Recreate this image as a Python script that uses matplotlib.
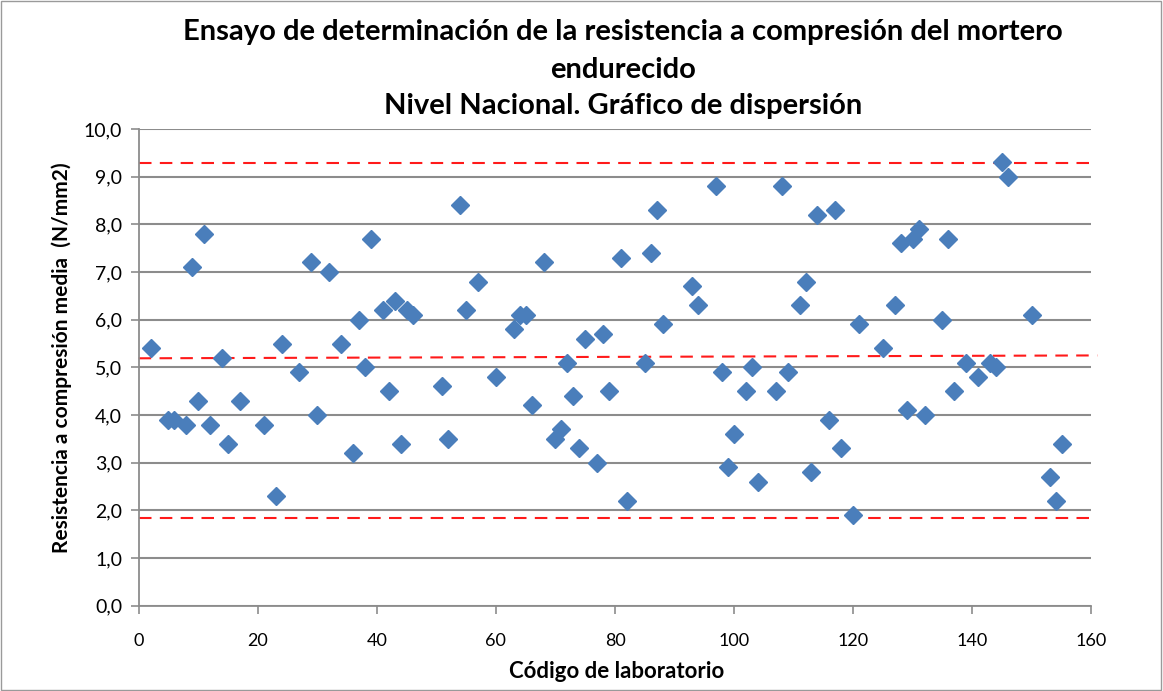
import matplotlib
matplotlib.use("Agg")
import matplotlib.pyplot as plt
from matplotlib.patches import Rectangle
from matplotlib.ticker import FuncFormatter, MultipleLocator

# Laboratory codes and mean compressive strength (N/mm2)
lab_codes = [
    2, 5, 6, 8, 9, 10, 11, 12, 14, 15, 17, 21, 23, 24, 27, 29, 30, 32, 34, 36,
    37, 38, 39, 41, 42, 43, 44, 45, 46, 51, 52, 54, 55, 57, 60, 63, 64, 65, 66, 68,
    70, 71, 72, 73, 74, 75, 77, 78, 79, 81, 82, 85, 86, 87, 88, 93, 94, 97, 98, 99,
    100, 102, 103, 104, 107, 108, 109, 111, 112, 113, 114, 116, 117, 118, 120, 121,
    125, 127, 128, 129, 130, 131, 132, 135, 136, 137, 139, 141, 143, 144, 145, 146,
    150, 153, 154, 155,
]
strength = [
    5.4, 3.9, 3.9, 3.8, 7.1, 4.3, 7.8, 3.8, 5.2, 3.4, 4.3, 3.8, 2.3, 5.5, 4.9, 7.2, 4.0, 7.0, 5.5, 3.2,
    6.0, 5.0, 7.7, 6.2, 4.5, 6.4, 3.4, 6.2, 6.1, 4.6, 3.5, 8.4, 6.2, 6.8, 4.8, 5.8, 6.1, 6.1, 4.2, 7.2,
    3.5, 3.7, 5.1, 4.4, 3.3, 5.6, 3.0, 5.7, 4.5, 7.3, 2.2, 5.1, 7.4, 8.3, 5.9, 6.7, 6.3, 8.8, 4.9, 2.9,
    3.6, 4.5, 5.0, 2.6, 4.5, 8.8, 4.9, 6.3, 6.8, 2.8, 8.2, 3.9, 8.3, 3.3, 1.9, 5.9,
    5.4, 6.3, 7.6, 4.1, 7.7, 7.9, 4.0, 6.0, 7.7, 4.5, 5.1, 4.8, 5.1, 5.0, 9.3, 9.0,
    6.1, 2.7, 2.2, 3.4,
]

# Reference limits: upper, central and lower lines (start, end values)
upper_line = [9.29, 9.29]
central_line = [5.19, 5.25]
lower_line = [1.83, 1.83]
line_x = [0, 161]

title_lines = [
    "Ensayo de determinación de la resistencia a compresión del mortero",
    "endurecido",
    "Nivel Nacional. Gráfico de dispersión",
]
x_label = "Código de laboratorio"
y_label = "Resistencia a compresión media  (N/mm2)"

W, H = 1163, 691
fig = plt.figure(figsize=(W / 100, H / 100), dpi=100)
ax = fig.add_axes([138.7 / W, 1 - 605.7 / H, (1091.3 - 138.7) / W, (605.7 - 129) / H])

grid_color = "#8C8C8C"
ax.set_xlim(0, 160)
ax.set_ylim(0, 10)
ax.xaxis.set_major_locator(MultipleLocator(20))
ax.yaxis.set_major_locator(MultipleLocator(1))
ax.yaxis.set_major_formatter(FuncFormatter(lambda v, p: f"{v:.1f}".replace(".", ",")))
ax.grid(axis="y", color=grid_color, linewidth=1.5)
ax.set_axisbelow(True)
for side in ("top", "right"):
    ax.spines[side].set_visible(False)
for side in ("left", "bottom"):
    ax.spines[side].set_color(grid_color)
    ax.spines[side].set_linewidth(1.3)
ax.tick_params(axis="both", direction="out", color=grid_color, width=1.2, length=6)
ax.tick_params(axis="x", pad=14)
ax.tick_params(axis="y", pad=6)

for lab in ax.get_xticklabels():
    lab.set_family(["Lato", "DejaVu Sans"])
    lab.set_fontsize(13)
for lab in ax.get_yticklabels():
    lab.set_family(["Lato", "DejaVu Sans"])
    lab.set_fontsize(14)

for vals in (upper_line, central_line, lower_line):
    ax.plot(line_x, vals, color="#FF1A1A", linewidth=1.5, dashes=(6, 4), clip_on=False, zorder=2)

ax.plot(lab_codes, strength, linestyle="none", marker="D", markersize=9.2,
        markerfacecolor="#4A7EBB", markeredgecolor="#4A7EBB", zorder=3, clip_on=False)

title_font = ["Lato", "DejaVu Sans"]
title_y = [32, 70, 106]
for txt, yy in zip(title_lines, title_y):
    fig.text(623 / W, 1 - yy / H, txt, ha="center", va="center", fontsize=21,
             fontweight="bold", family=title_font)

fig.text(617 / W, 1 - 672 / H, x_label, ha="center", va="center", fontsize=16,
         fontweight="bold", family=title_font)
fig.text(62 / W, 1 - 358 / H, y_label, ha="center", va="center", rotation=90,
         fontsize=15, fontweight="bold", family=title_font)

fig.patches.append(Rectangle((0.001, 0.002), 0.997, 0.996, transform=fig.transFigure,
                             fill=False, edgecolor="#9A9A9A", linewidth=1.0))

fig.savefig("out.png", dpi=100)
